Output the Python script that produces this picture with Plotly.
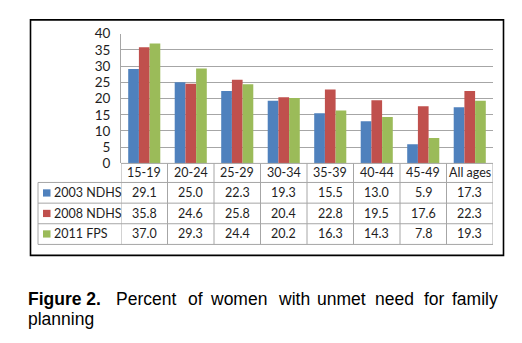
import plotly.graph_objects as go

categories = ["15-19", "20-24", "25-29", "30-34", "35-39", "40-44", "45-49", "All ages"]
series_names = ["2003 NDHS", "2008 NDHS", "2011 FPS"]
ndhs_2003 = [29.1, 25.0, 22.3, 19.3, 15.5, 13.0, 5.9, 17.3]
ndhs_2008 = [35.8, 24.6, 25.8, 20.4, 22.8, 19.5, 17.6, 22.3]
fps_2011 = [37.0, 29.3, 24.4, 20.2, 16.3, 14.3, 7.8, 19.3]
colors = ["#4F81BD", "#C0504D", "#9BBB59"]
y_ticks = [0, 5, 10, 15, 20, 25, 30, 35, 40]

caption_bold = "Figure 2."
caption_words = ["Percent", "of", "women", "with", "unmet", "need", "for", "family"]
caption_line2 = "planning"

W, H = 522, 343
def px(x):
    return x / W
def py(y):
    return 1 - y / H

GRID = "#a6a6a6"
TXT = "#1e1e1e"
FONT = "Lato"
FS = 12.5

fig = go.Figure()
all_series = [ndhs_2003, ndhs_2008, fps_2011]
for name, vals, col in zip(series_names, all_series, colors):
    fig.add_trace(go.Bar(x=categories, y=vals, name=name, marker_color=col,
                         marker_line_width=0, showlegend=False))

shapes = []
annotations = []

# outer frame
shapes.append(dict(type="rect", xref="paper", yref="paper",
                   x0=px(30.5), x1=px(503.5), y0=py(12.5), y1=py(259.5),
                   line=dict(color="black", width=1.6)))

# table geometry (pixel rows)
row_lines = [183, 204.7, 226.3, 248]
header_center = 173
row_centers = [194, 215.5, 237]
n = len(categories)

for yy in row_lines:
    shapes.append(dict(type="line", xref="paper", yref="paper",
                       x0=px(38), x1=px(493), y0=py(yy), y1=py(yy),
                       line=dict(color=GRID, width=1)))
shapes.append(dict(type="line", xref="paper", yref="paper",
                   x0=px(121), x1=px(493), y0=py(163), y1=py(163),
                   line=dict(color=GRID, width=1)))
shapes.append(dict(type="line", xref="paper", yref="paper",
                   x0=px(38), x1=px(38), y0=py(183), y1=py(248),
                   line=dict(color=GRID, width=1)))
for i in range(n + 1):
    shapes.append(dict(type="line", xref="x", yref="paper",
                       x0=i - 0.5, x1=i - 0.5, y0=py(163), y1=py(248),
                       line=dict(color=GRID, width=1)))

for i, c in enumerate(categories):
    annotations.append(dict(x=i, y=py(header_center), xref="x", yref="paper",
                            text=c, showarrow=False, xanchor="center", yanchor="middle",
                            font=dict(family=FONT, size=FS, color=TXT)))
for r, (name, vals, col) in enumerate(zip(series_names, all_series, colors)):
    yc = row_centers[r]
    shapes.append(dict(type="rect", xref="paper", yref="paper",
                       x0=px(43), x1=px(50.5), y0=py(yc + 3.8), y1=py(yc - 3.8),
                       fillcolor=col, line=dict(width=0)))
    annotations.append(dict(x=px(51.5), y=py(yc), xref="paper", yref="paper",
                            text=name, showarrow=False, xanchor="left", yanchor="middle",
                            font=dict(family=FONT, size=FS, color=TXT)))
    for i, v in enumerate(vals):
        annotations.append(dict(x=i, y=py(yc), xref="x", yref="paper",
                                text=f"{v:.1f}", showarrow=False, xanchor="center",
                                yanchor="middle",
                                font=dict(family=FONT, size=FS, color=TXT)))

# caption (justified first line)
CAP = "Liberation Sans"
CFS = 17.5
cap_y1 = 305
cap_y2 = 326
annotations.append(dict(x=px(25.5), y=py(cap_y1), xref="paper", yref="paper",
                        text=f"<b>{caption_bold}</b>", showarrow=False,
                        xanchor="left", yanchor="middle",
                        font=dict(family=CAP, size=CFS, color="black")))
word_x = [113.5, 185.5, 208, 276, 314.5, 373, 421.5]
for w, xx in zip(caption_words[:-1], word_x):
    annotations.append(dict(x=px(xx), y=py(cap_y1), xref="paper", yref="paper",
                            text=w, showarrow=False, xanchor="left", yanchor="middle",
                            font=dict(family=CAP, size=CFS, color="black")))
annotations.append(dict(x=px(499.5), y=py(cap_y1), xref="paper", yref="paper",
                        text=caption_words[-1], showarrow=False, xanchor="right",
                        yanchor="middle", font=dict(family=CAP, size=CFS, color="black")))
annotations.append(dict(x=px(25.5), y=py(cap_y2), xref="paper", yref="paper",
                        text=caption_line2, showarrow=False, xanchor="left",
                        yanchor="middle", font=dict(family=CAP, size=CFS, color="black")))

fig.update_layout(
    width=W, height=H,
    margin=dict(l=0, r=0, t=0, b=0),
    paper_bgcolor="white", plot_bgcolor="white",
    barmode="group", bargap=0.31, bargroupgap=0,
    xaxis=dict(domain=[px(121), px(493)], range=[-0.5, n - 0.5],
               showticklabels=False, showgrid=False, showline=False,
               zeroline=False, ticks=""),
    yaxis=dict(domain=[py(163), py(27)], range=[0, 40], tickvals=y_ticks,
               showgrid=True, gridcolor=GRID, gridwidth=1, zeroline=False,
               showline=True, linecolor=GRID, linewidth=1, ticks="",
               ticklabelstandoff=7,
               tickfont=dict(family=FONT, size=13.5, color=TXT)),
    shapes=shapes, annotations=annotations,
)

fig.write_html("out.html")
